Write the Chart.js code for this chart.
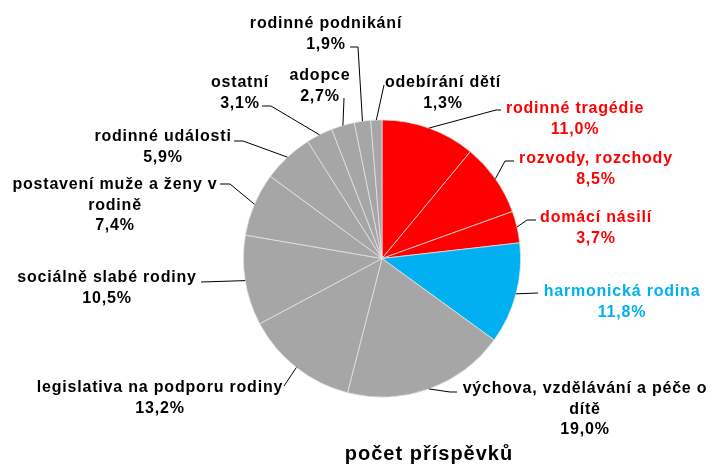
<!DOCTYPE html>
<html>
<head>
<meta charset="utf-8">
<script src="https://cdn.jsdelivr.net/npm/chart.js@4"></script>
<style>
  body { margin: 0; background: #fff; }
  canvas { display: block; }
</style>
</head>
<body>
<canvas id="chart" width="713" height="467"></canvas>
<script>
// data
const categories = [
    'rodinné tragédie',
    'rozvody, rozchody',
    'domácí násilí',
    'harmonická rodina',
    'výchova, vzdělávání a péče o\ndítě',
    'legislativa na podporu rodiny',
    'sociálně slabé rodiny',
    'postavení muže a ženy v\nrodině',
    'rodinné události',
    'ostatní',
    'adopce',
    'rodinné podnikání',
    'odebírání dětí'
];
const shares = [11.0, 8.5, 3.7, 11.8, 19.0, 13.2, 10.5, 7.4, 5.9, 3.1, 2.7, 1.9, 1.3];
const chartTitle = 'počet příspěvků';

// colours: first three red, harmonická rodina blue, rest gray
const RED = '#ff0000', BLUE = '#00b0f0', GRAY = '#a6a6a6';
const sliceColors = shares.map((v, i) => i < 3 ? RED : (i === 3 ? BLUE : GRAY));
const textColors = shares.map((v, i) => i < 3 ? RED : (i === 3 ? BLUE : '#000'));

// label placement (text centre x, first baseline y, leader anchor, stub end x)
const labelLayout = [
    { x: 575, y: 113, ax: 501, ay: 110, sx: 496 },
    { x: 596, y: 163, ax: 514, ay: 161, sx: 505 },
    { x: 596, y: 222, ax: 536, ay: 220, sx: 527 },
    { x: 622, y: 296, ax: 538, ay: 293, sx: null },
    { x: 585, y: 393, ax: 457, ay: 392, sx: 450 },
    { x: 160, y: 392, ax: 284, ay: 386, sx: null },
    { x: 107, y: 282, ax: 201, ay: 282, sx: null },
    { x: 115, y: 189, ax: 220, ay: 184, sx: 230 },
    { x: 163, y: 141, ax: 234, ay: 141, sx: 243 },
    { x: 240, y: 87, ax: 262, ay: 106, sx: 271 },
    { x: 320, y: 80, ax: 344, ay: 98, sx: null },
    { x: 326, y: 28, ax: 350, ay: 47, sx: 358 },
    { x: 443, y: 87, ax: 384, ay: 85, sx: null }
];

function fmtPct(v) {
    return v.toFixed(1).replace('.', ',') + '%';
}

const outsideLabels = {
    id: 'outsideLabels',
    afterDatasetsDraw(chart) {
        const ctx = chart.ctx;
        const arcs = chart.getDatasetMeta(0).data;
        ctx.save();
        arcs.forEach((arc, i) => {
            const p = arc.getProps(['x', 'y', 'startAngle', 'endAngle', 'outerRadius'], true);
            const mid = (p.startAngle + p.endAngle) / 2;
            const ex = p.x + Math.cos(mid) * p.outerRadius;
            const ey = p.y + Math.sin(mid) * p.outerRadius;
            const L = labelLayout[i];

            // leader line
            ctx.strokeStyle = '#000';
            ctx.lineWidth = 1;
            ctx.beginPath();
            ctx.moveTo(L.ax, L.ay);
            if (L.sx !== null) ctx.lineTo(L.sx, L.ay);
            ctx.lineTo(ex, ey);
            ctx.stroke();

            // text
            const lines = categories[i].split('\n').concat([fmtPct(shares[i])]);
            ctx.fillStyle = textColors[i];
            ctx.font = 'bold 16px "Liberation Sans", Arial, sans-serif';
            ctx.letterSpacing = '0.8px';
            ctx.textAlign = 'center';
            ctx.textBaseline = 'alphabetic';
            lines.forEach((t, k) => {
                ctx.fillText(t, L.x, L.y + k * 20.5);
            });
        });

        // title under the pie
        ctx.fillStyle = '#000';
        ctx.font = 'bold 20px "Liberation Sans", Arial, sans-serif';
        ctx.letterSpacing = '1px';
        ctx.textAlign = 'center';
        ctx.fillText(chartTitle, 429, 460);
        ctx.restore();
    }
};

new Chart(document.getElementById('chart').getContext('2d'), {
    type: 'pie',
    data: {
        labels: categories,
        datasets: [{
            data: shares,
            backgroundColor: sliceColors,
            borderColor: '#e6e6e6',
            borderWidth: 0.75,
            hoverBorderWidth: 0.75
        }]
    },
    options: {
        responsive: false,
        animation: false,
        layout: {
            padding: { left: 243, right: 192, top: 119.5, bottom: 69.5 }
        },
        plugins: {
            legend: { display: false },
            tooltip: { enabled: false },
            title: { display: false }
        }
    },
    plugins: [outsideLabels]
});
</script>
</body>
</html>
